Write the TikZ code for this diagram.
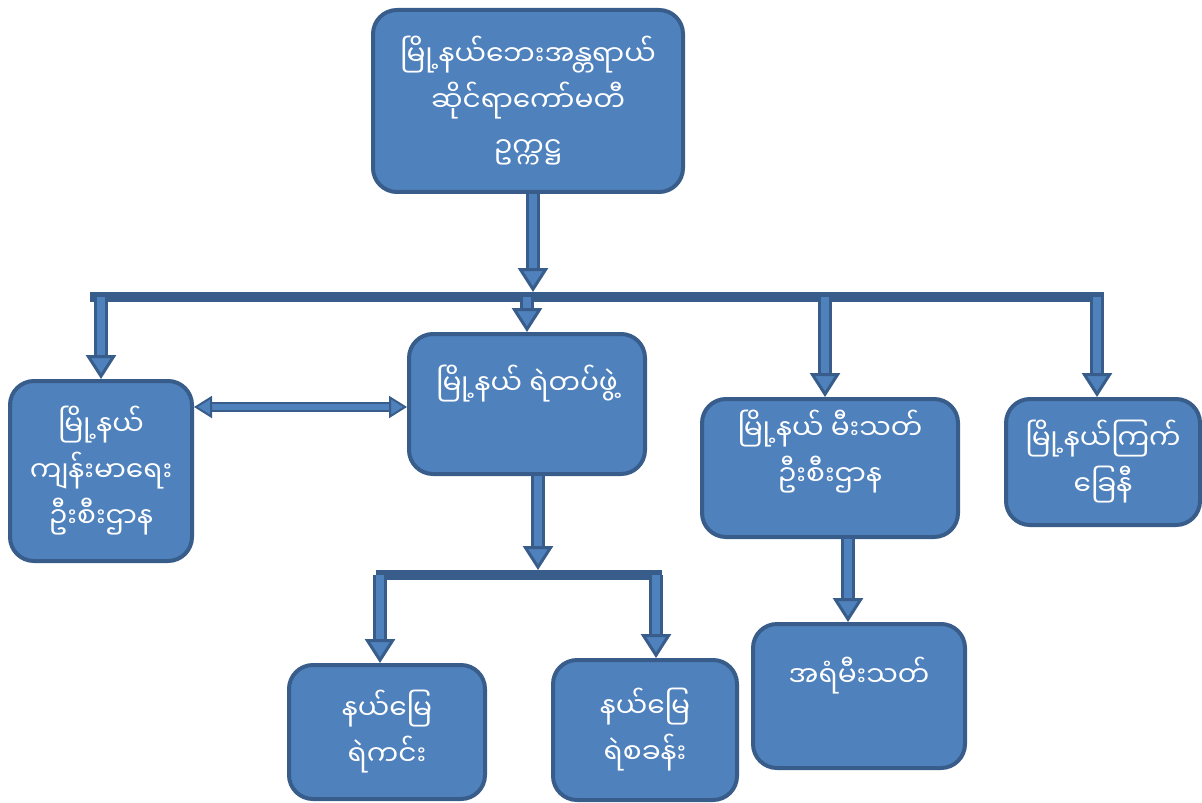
\documentclass[tikz,border=0pt]{standalone}
\usepackage{fontspec}
\newfontfamily\mmfont[Script=Myanmar]{Noto Sans Myanmar UI}
\usetikzlibrary{arrows.meta,positioning}
\definecolor{boxblue}{HTML}{4F81BD}
\definecolor{edgeblue}{HTML}{385D8A}
\tikzset{
  unit/.style={rectangle, rounded corners=12pt, draw=edgeblue, line width=2pt,
    fill=boxblue, text=white, align=center, inner sep=0pt,
    font=\mmfont\fontsize{14}{23}\selectfont},
  blk/.style={draw=edgeblue, line width=1.5pt, double=boxblue, double distance=4pt,
    -{Triangle[length=12pt,width=15pt,fill=boxblue]}},
  bus/.style={draw=edgeblue, line width=5pt},
}

\begin{document}
\begin{tikzpicture}[x=0.5pt,y=-0.5pt]
\useasboundingbox (0,0) rectangle (1202,802);

\node[unit, minimum width=155pt, minimum height=91pt] (chair) at (528,101)
  {မြို့နယ်ဘေးအန္တရာယ်\\ဆိုင်ရာကော်မတီ\\ဥက္ကဋ္ဌ};
\node[unit, minimum width=91pt, minimum height=90pt] (health) at (101,471)
  {မြို့နယ်\\ကျန်းမာရေး\\ဦးစီးဌာန};
\node[unit, minimum width=118pt, minimum height=70pt, text depth=24pt] (police) at (527,404)
  {မြို့နယ် ရဲတပ်ဖွဲ့};
\node[unit, minimum width=128pt, minimum height=69pt, text depth=20pt] (fire) at (830,468)
  {မြို့နယ် မီးသတ်\\ဦးစီးဌာန};
\node[unit, minimum width=97pt, minimum height=63pt] (redcross) at (1103,462)
  {မြို့နယ်ကြက်\\ခြေနီ};
\node[unit, minimum width=98pt, minimum height=67pt] (outpost) at (387,732)
  {နယ်မြေ\\ရဲကင်း};
\node[unit, minimum width=92pt, minimum height=70pt] (station) at (645,730)
  {နယ်မြေ\\ရဲစခန်း};
\node[unit, minimum width=106pt, minimum height=72pt, text depth=24pt] (reserve) at (859,696)
  {အရံမီးသတ်};

% upper level
\coordinate (busL) at (90,297);
\coordinate (busR) at (1104,297);
\draw[bus] (busL) -- (busR);
\draw[blk, shorten >=2.5pt] ([xshift=2.5pt]chair.south) -- ([xshift=2.5pt]chair.south |- busL);
\draw[blk] (busL -| health.north) -- (health.north);
\draw[blk] (busL -| police.north) -- (police.north);
\draw[blk] ([xshift=-2.5pt]busL -| fire.north) -- ([xshift=-2.5pt]fire.north);
\draw[blk] ([xshift=-3pt]busL -| redcross.north) -- ([xshift=-3pt]redcross.north);
\draw[blk, line width=1pt, double distance=3pt,
  {Triangle[length=9pt,width=11pt,fill=boxblue]}-{Triangle[length=9pt,width=11pt,fill=boxblue]}]
  ([yshift=32pt]health.east) -- ([yshift=32pt]health.east -| police.west);

% lower level
\coordinate (subL) at (376,575);
\coordinate (subR) at (662,575);
\draw[bus] (subL) -- (subR);
\draw[blk, shorten >=2.5pt] ([xshift=5.5pt]police.south) -- ([xshift=5.5pt]police.south |- subL);
\draw[blk] ([xshift=-3.5pt]subL -| outpost.north) -- ([xshift=-3.5pt]outpost.north);
\draw[blk] ([xshift=5.5pt]subL -| station.north) -- ([xshift=5.5pt]station.north);
\draw[blk] ([xshift=9pt]fire.south) -- ([xshift=9pt]fire.south |- reserve.north);
\end{tikzpicture}
\end{document}
